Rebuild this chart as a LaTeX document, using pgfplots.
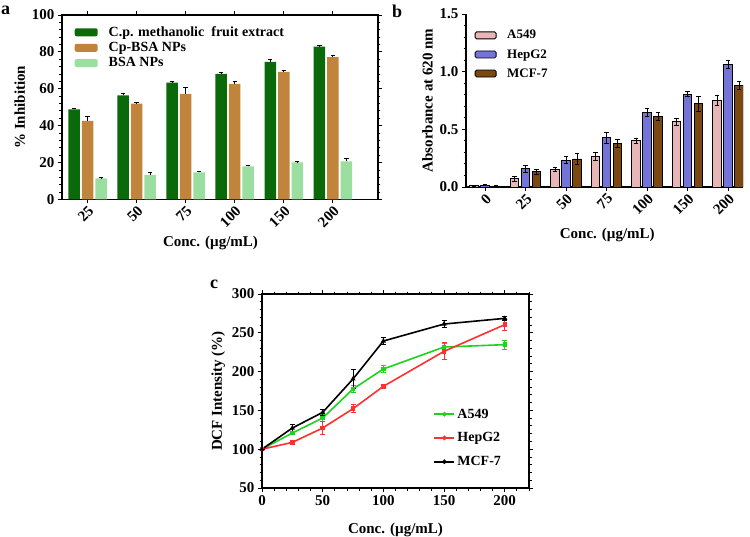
\documentclass[border=0pt]{standalone}
\usepackage{pgfplots}
\pgfplotsset{compat=1.18}
\usepackage{fontspec}
\setmainfont{Liberation Serif}
\definecolor{dgreen}{HTML}{0A6A0A}
\definecolor{orng}{HTML}{C0843C}
\definecolor{lgreen}{HTML}{9ADFA0}
\definecolor{pinkb}{HTML}{E8B6B6}
\definecolor{blueb}{HTML}{7474D8}
\definecolor{brownb}{HTML}{7A4810}
\definecolor{gline}{HTML}{1ED21E}
\definecolor{rline}{HTML}{FF3030}
\pgfplotsset{
  common/.style={
    scale only axis,
    /pgf/number format/assume math mode=true,
    tick label style={font=\fontsize{15}{16}\selectfont\bfseries},
    label style={font=\fontsize{15}{16}\selectfont\bfseries},
    legend style={font=\fontsize{14}{15}\selectfont\bfseries, draw=none, fill=none},
    tick align=outside,
    major tick length=4pt, minor tick length=2.5pt,
    tick style={black, line width=0.9pt},
    axis line style={black, line width=1.2pt},
    every axis plot/.append style={line width=0.8pt},
  },
}
\begin{document}
\begin{tikzpicture}[x=1pt,y=1pt]
\useasboundingbox (0,0) rectangle (750,536);
% ---------- panel a ----------
\node[font=\fontsize{18}{18}\selectfont\bfseries, anchor=north west, inner sep=0pt] at (1,530) {a};
\begin{axis}[common,
  at={(62pt,336.5pt)}, anchor=south west,
  width=316pt, height=184.5pt,
  ybar=2pt, bar width=11.5pt,
  xmin=-0.52, xmax=5.92, ymin=0, ymax=100,
  xtick={0,1,2,3,4,5}, xticklabels={25,50,75,100,150,200},
  xticklabel style={rotate=45, anchor=north east, inner sep=1pt},
  ytick={0,20,40,60,80,100}, minor y tick num=4,
  xlabel={Conc. (µg/mL)}, ylabel={\% Inhibition},
  xlabel style={at={(axis description cs:0.47,0)}, anchor=north, yshift=-33pt},
  legend style={at={(0.03,0.96)}, anchor=north west, row sep=0.5pt, legend cell align=left},
  legend image code/.code={\fill[#1, rounded corners=2pt] (0pt,-4pt) rectangle (23pt,4pt); \path[draw=none, fill=none] (0pt,0pt) -- (32pt,0pt);},
  error bars/y dir=plus, error bars/y explicit,
  error bars/error bar style={black, line width=0.9pt},
  error bars/error mark options={rotate=90, mark size=2.2pt, black, line width=0.9pt},
]
\addplot[fill=dgreen, draw=none] coordinates {
  (0,48.9) +- (0,0.7) (1,56.5) +- (0,0.8) (2,63.4) +- (0,0.5)
  (3,68.1) +- (0,0.7) (4,74.6) +- (0,1.2) (5,82.8) +- (0,0.5)};
\addlegendentry{C.p. methanolic\ \ fruit extract}
\addplot[fill=orng, draw=none] coordinates {
  (0,42.6) +- (0,2.6) (1,52.0) +- (0,0.5) (2,57.2) +- (0,3.5)
  (3,62.7) +- (0,1.2) (4,69.2) +- (0,0.7) (5,77.2) +- (0,0.7)};
\addlegendentry{Cp-BSA NPs}
\addplot[fill=lgreen, draw=none] coordinates {
  (0,11.4) +- (0,0.4) (1,13.4) +- (0,1.5) (2,14.7) +- (0,0.6)
  (3,17.9) +- (0,0.6) (4,20.1) +- (0,0.4) (5,20.7) +- (0,1.6)};
\addlegendentry{BSA NPs}
\end{axis}
% ---------- panel b ----------
\node[font=\fontsize{18}{18}\selectfont\bfseries, anchor=north west, inner sep=0pt] at (392,531) {b};
\begin{axis}[common,
  at={(466pt,349pt)}, anchor=south west,
  width=277pt, height=173pt,
  ybar=2.5pt, bar width=8.5pt,
  axis x line*=bottom, axis y line*=left,
  xmin=-0.47, xmax=6.37, ymin=0, ymax=1.5,
  xtick={0,1,2,3,4,5,6}, xticklabels={0,25,50,75,100,150,200},
  xticklabel style={rotate=45, anchor=north east, inner sep=1pt},
  ytick={0,0.5,1,1.5}, yticklabels={0.0,0.5,1.0,1.5}, minor y tick num=4,
  xlabel={Conc. (µg/mL)}, ylabel={Absorbance at 620 nm},
  xlabel style={at={(axis description cs:0.51,0)}, anchor=north, yshift=-38pt},
  legend style={at={(0.02,0.93)}, anchor=north west, row sep=5pt, legend cell align=left, font=\fontsize{13}{14}\selectfont\bfseries},
  legend image code/.code={\draw[#1, draw=black, line width=0.8pt, rounded corners=1.5pt] (0pt,-3.5pt) rectangle (21pt,3.5pt); \path[draw=none, fill=none] (0pt,0pt) -- (30pt,0pt);},
  error bars/y dir=both, error bars/y explicit,
  error bars/error bar style={black, line width=0.9pt},
  error bars/error mark options={rotate=90, mark size=2.2pt, black, line width=0.9pt},
]
\addplot[fill=pinkb, draw=black] coordinates {
  (0,0.010) +- (0,0.004) (1,0.072) +- (0,0.02) (2,0.153) +- (0,0.02) (3,0.266) +- (0,0.035)
  (4,0.400) +- (0,0.025) (5,0.567) +- (0,0.03) (6,0.750) +- (0,0.04)};
\addlegendentry{A549}
\addplot[fill=blueb, draw=black] coordinates {
  (0,0.014) +- (0,0.004) (1,0.159) +- (0,0.03) (2,0.232) +- (0,0.03) (3,0.426) +- (0,0.05)
  (4,0.643) +- (0,0.035) (5,0.805) +- (0,0.02) (6,1.063) +- (0,0.035)};
\addlegendentry{HepG2}
\addplot[fill=brownb, draw=black] coordinates {
  (0,0.008) +- (0,0.003) (1,0.133) +- (0,0.02) (2,0.243) +- (0,0.05) (3,0.374) +- (0,0.035)
  (4,0.614) +- (0,0.035) (5,0.724) +- (0,0.065) (6,0.883) +- (0,0.035)};
\addlegendentry{MCF-7}
\end{axis}
% ---------- panel c ----------
\node[font=\fontsize{18}{18}\selectfont\bfseries, anchor=north west, inner sep=0pt] at (210,256) {c};
\begin{axis}[common,
  at={(262pt,48pt)}, anchor=south west,
  width=267pt, height=194pt,
  xmin=0, xmax=220, ymin=50, ymax=300,
  xtick={0,50,...,200}, minor xtick={10,20,30,40,60,70,80,90,110,120,130,140,160,170,180,190,210,220},
  ytick={50,100,...,300}, minor y tick num=4,
  xlabel={Conc. (µg/mL)}, ylabel={DCF Intensity (\%)},
  xlabel style={yshift=-11pt},
  legend style={at={(0.63,0.43)}, anchor=north west, row sep=9pt, legend cell align=left},
  legend image code/.code={\draw[#1, line width=2pt] (0pt,0pt) -- (20pt,0pt); \fill[#1] (10pt,0pt) circle (1.4pt);},
]
\addplot[gline, line width=1.6pt, mark=square*, mark size=1.4pt,
  error bars/.cd, y dir=both, y explicit,
  error bar style={gline, line width=1pt}, error mark options={gline, rotate=90, mark size=2.5pt, line width=1pt}] coordinates {
  (0,100) +- (0,0) (25,120.9) +- (0,2) (50,140.2) +- (0,5) (75,177.6) +- (0,4)
  (100,203.4) +- (0,4) (150,231.7) +- (0,5) (200,234.7) +- (0,6)};
\addlegendentry{A549}
\addplot[rline, line width=1.6pt, mark=square*, mark size=1.4pt,
  error bars/.cd, y dir=both, y explicit,
  error bar style={rline, line width=1pt}, error mark options={rline, rotate=90, mark size=2.5pt, line width=1pt}] coordinates {
  (0,100) +- (0,0) (25,108.8) +- (0,1.2) (50,127.3) +- (0,8) (75,152.2) +- (0,5)
  (100,181.0) +- (0,3) (150,226.1) +- (0,11) (200,260.5) +- (0,8)};
\addlegendentry{HepG2}
\addplot[black, line width=1.6pt, mark=triangle*, mark size=1.4pt,
  error bars/.cd, y dir=both, y explicit,
  error bar style={black, line width=1pt}, error mark options={black, rotate=90, mark size=2.5pt, line width=1pt}] coordinates {
  (0,100) +- (0,0) (25,127.3) +- (0,5) (50,147.5) +- (0,4) (75,190.5) +- (0,12)
  (100,239.4) +- (0,5) (150,261.3) +- (0,4) (200,268.6) +- (0,3)};
\addlegendentry{MCF-7}
\end{axis}
\end{tikzpicture}
\end{document}
